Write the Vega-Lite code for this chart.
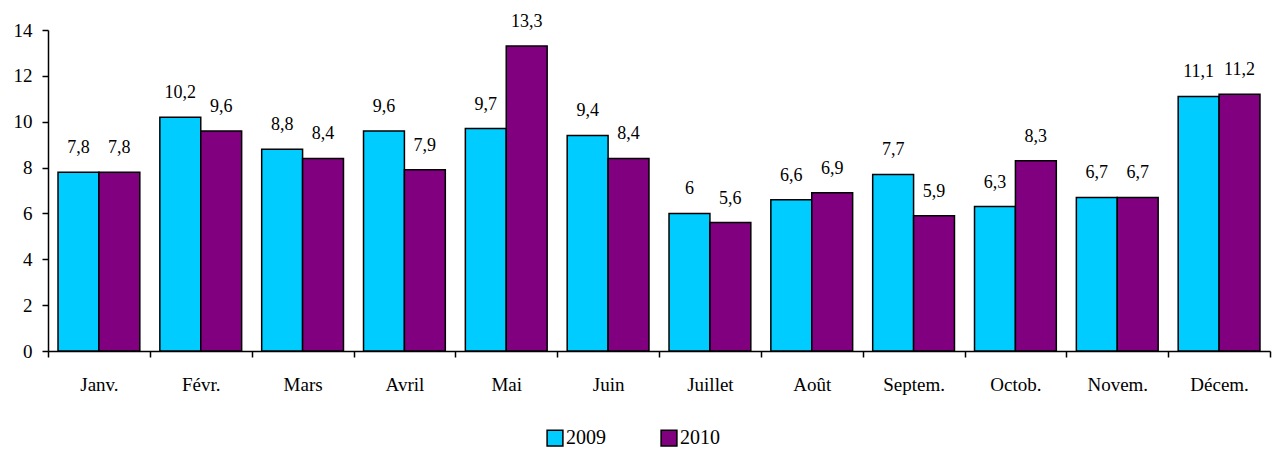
{
  "$schema": "https://vega.github.io/schema/vega-lite/v6.json",
  "width": 1222,
  "height": 321,
  "autosize": {"type": "none"},
  "padding": {"left": 48, "top": 30, "right": 7, "bottom": 98},
  "background": "white",
  "config": {
    "view": {"stroke": null},
    "font": "Liberation Serif",
    "text": {"font": "Liberation Serif"},
    "locale": {"number": {"decimal": ",", "thousands": " ", "grouping": [3], "currency": ["", " €"]}},
    "axis": {"domainColor": "black", "domainWidth": 1.5, "tickColor": "black", "tickWidth": 1.5, "labelFont": "Liberation Serif", "labelColor": "black", "labelFontSize": 19},
    "legend": {"labelFont": "Liberation Serif"}
  },
  "data": {
    "values": [
      {"mois": "Janv.", "annee": "2009", "valeur": 7.8},
      {"mois": "Janv.", "annee": "2010", "valeur": 7.8},
      {"mois": "Févr.", "annee": "2009", "valeur": 10.2},
      {"mois": "Févr.", "annee": "2010", "valeur": 9.6},
      {"mois": "Mars", "annee": "2009", "valeur": 8.8},
      {"mois": "Mars", "annee": "2010", "valeur": 8.4},
      {"mois": "Avril", "annee": "2009", "valeur": 9.6},
      {"mois": "Avril", "annee": "2010", "valeur": 7.9},
      {"mois": "Mai", "annee": "2009", "valeur": 9.7},
      {"mois": "Mai", "annee": "2010", "valeur": 13.3},
      {"mois": "Juin", "annee": "2009", "valeur": 9.4},
      {"mois": "Juin", "annee": "2010", "valeur": 8.4},
      {"mois": "Juillet", "annee": "2009", "valeur": 6},
      {"mois": "Juillet", "annee": "2010", "valeur": 5.6},
      {"mois": "Août", "annee": "2009", "valeur": 6.6},
      {"mois": "Août", "annee": "2010", "valeur": 6.9},
      {"mois": "Septem.", "annee": "2009", "valeur": 7.7},
      {"mois": "Septem.", "annee": "2010", "valeur": 5.9},
      {"mois": "Octob.", "annee": "2009", "valeur": 6.3},
      {"mois": "Octob.", "annee": "2010", "valeur": 8.3},
      {"mois": "Novem.", "annee": "2009", "valeur": 6.7},
      {"mois": "Novem.", "annee": "2010", "valeur": 6.7},
      {"mois": "Décem.", "annee": "2009", "valeur": 11.1},
      {"mois": "Décem.", "annee": "2010", "valeur": 11.2}
    ]
  },
  "encoding": {
    "x": {
      "field": "mois", "type": "nominal", "sort": null,
      "scale": {"paddingInner": 0, "paddingOuter": 0},
      "axis": {"title": null, "labelAngle": 0, "tickBand": "extent", "tickSize": 6, "labelPadding": 18, "labelFontSize": 19}
    },
    "xOffset": {"field": "annee", "type": "nominal", "scale": {"paddingInner": 0, "paddingOuter": 0.245}},
    "y": {
      "field": "valeur", "type": "quantitative",
      "scale": {"domain": [0, 14], "nice": false},
      "axis": {"title": null, "values": [0, 2, 4, 6, 8, 10, 12, 14], "grid": false, "tickSize": 6, "labelPadding": 10, "labelFontSize": 19}
    }
  },
  "layer": [
    {
      "mark": {"type": "bar", "stroke": "black", "strokeWidth": 1.5},
      "encoding": {
        "color": {
          "field": "annee", "type": "nominal",
          "scale": {"domain": ["2009", "2010"], "range": ["#00CCFF", "#800080"]},
          "legend": {
            "title": null, "orient": "none", "direction": "horizontal",
            "legendX": 497, "legendY": 398,
            "symbolType": "square", "symbolSize": 250, "symbolStrokeColor": "black", "symbolStrokeWidth": 1.5,
            "labelFontSize": 20, "labelFont": "Liberation Serif", "labelColor": "black",
            "columnPadding": 52, "labelOffset": 1
          }
        }
      }
    },
    {
      "mark": {"type": "text", "baseline": "alphabetic", "dy": -19, "fontSize": 18, "font": "Liberation Serif", "color": "black"},
      "encoding": {
        "text": {"field": "valeur", "type": "quantitative", "format": "~g"}
      }
    }
  ]
}
